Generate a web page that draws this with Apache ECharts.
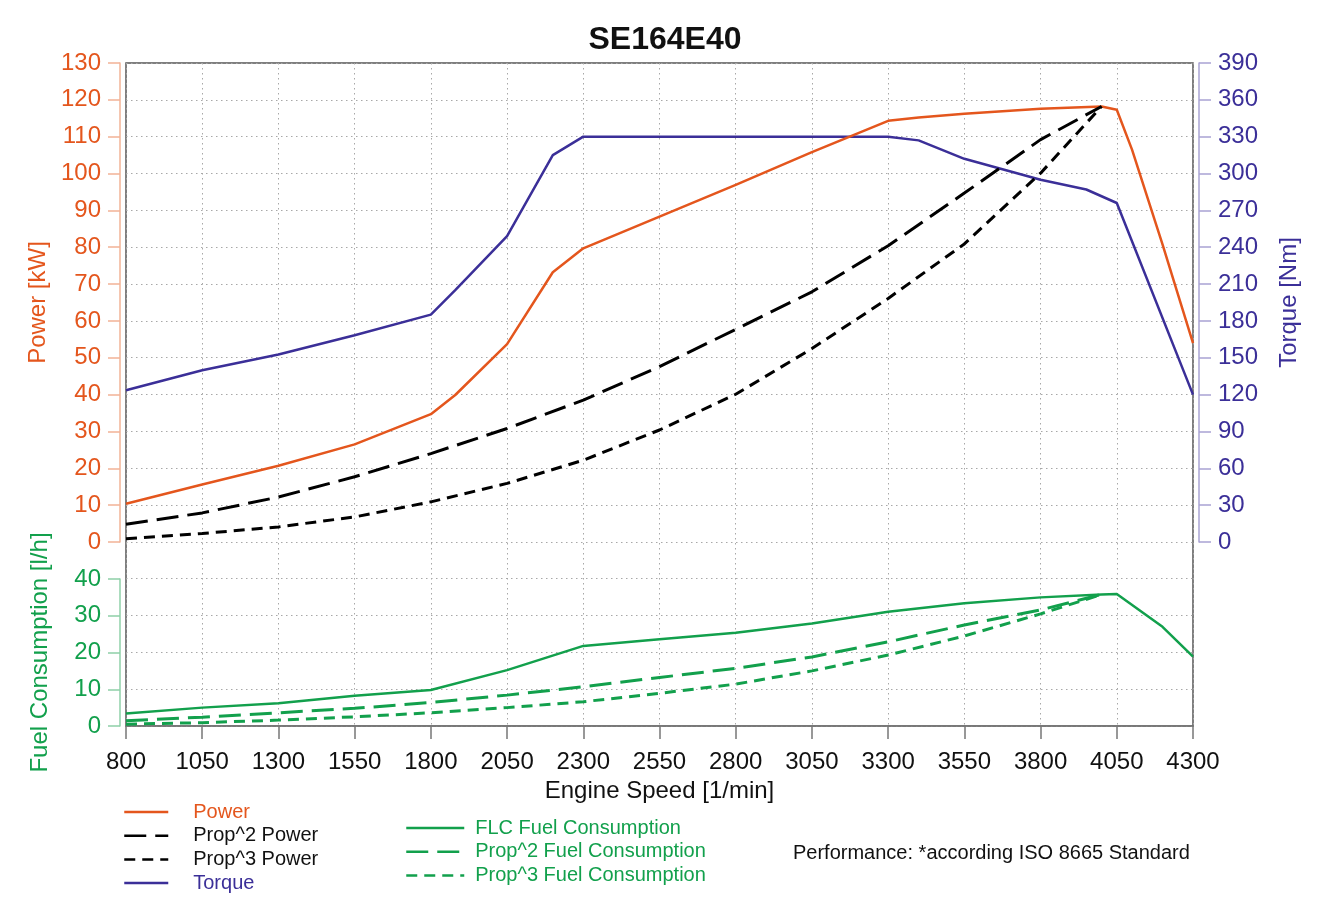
<!DOCTYPE html>
<html>
<head>
<meta charset="utf-8">
<title>SE164E40</title>
<script src="https://cdn.jsdelivr.net/npm/echarts@6/dist/echarts.min.js"></script>
<style>
  html, body { margin: 0; padding: 0; background: #fff; }
  #main { width: 1330px; height: 924px; }
</style>
</head>
<body>
<div id="main"></div>
<script>
// engine speed points [1/min]
var rpmPower = [800, 1050, 1300, 1550, 1800, 1880, 2050, 2200, 2300, 2550, 2800, 3050, 3300, 3400, 3550, 3800, 4000, 4050, 4100, 4200, 4300]
var rpmTorque = [800, 1050, 1300, 1550, 1800, 1880, 2050, 2200, 2300, 3300, 3400, 3550, 3800, 3950, 4050, 4300]
var rpmProp = [800, 1050, 1300, 1550, 1800, 2050, 2300, 2550, 2800, 3050, 3300, 3550, 3800, 4000]
var rpmFuel = [800, 1050, 1300, 1550, 1800, 2050, 2300, 2550, 2800, 3050, 3300, 3550, 3800, 4000, 4050, 4200, 4300]

// power [kW]
var power = [10.4, 15.6, 20.7, 26.5, 34.7, 39.9, 53.7, 73.2, 79.7, 88.3, 96.9, 105.8, 114.3, 115.2, 116.2, 117.6, 118.2, 117.3, 106.5, 80.8, 54]
var prop2Power = [4.8, 7.9, 12.2, 17.7, 24.0, 30.8, 38.5, 47.6, 57.7, 67.9, 80.4, 94.7, 109.2, 118.2]
var prop3Power = [0.9, 2.3, 4.1, 6.8, 10.9, 15.9, 22.2, 30.4, 40.1, 52.5, 66.1, 80.9, 100.1, 118.2]
// torque [Nm]
var torque = [123.5, 139.8, 152.6, 168.3, 185.1, 205, 249, 315, 330, 330, 327, 312, 295, 287, 276, 120]
// fuel consumption [l/h]
var flcFuel = [3.4, 5.0, 6.2, 8.2, 9.8, 15.2, 21.8, 23.6, 25.4, 27.9, 31.1, 33.4, 35.0, 35.8, 35.9, 27.0, 18.9]
var prop2Fuel = [1.4, 2.4, 3.6, 4.8, 6.4, 8.4, 10.7, 13.2, 15.7, 18.8, 22.9, 27.5, 31.6, 35.8]
var prop3Fuel = [0.5, 0.9, 1.6, 2.5, 3.6, 5.0, 6.6, 8.9, 11.4, 15.0, 19.3, 24.5, 30.5, 35.8]

var ORANGE = '#e4561d'
var PURPLE = '#3b2f98'
var GREEN = '#12a04c'
var FONT = 'Liberation Sans, Arial, sans-serif'

function pairs(xs, ys) {
    return xs.map(function(x, i) { return [x, ys[i]] })
}

var dotted = { color: '#a8a8a8', width: 1, type: [1.5, 3.5] }

function sideAxis(opt) {
    return {
        type: 'value',
        gridIndex: opt.grid,
        position: opt.pos,
        offset: 6,
        min: opt.min,
        max: opt.max,
        interval: opt.interval,
        name: opt.name,
        nameLocation: 'middle',
        nameGap: opt.nameGap,
        nameTextStyle: { color: opt.color, fontSize: 24, fontFamily: FONT },
        axisLine: { show: true, lineStyle: { color: opt.lineColor, width: 1.5 } },
        axisTick: { show: true, length: 12, lineStyle: { color: opt.lineColor, width: 1.5 } },
        axisLabel: { color: opt.color, fontSize: 24, fontFamily: FONT, margin: 19 },
        splitLine: { show: false }
    }
}

function line(name, x, y, color, dash, xi, yi, width) {
    return {
        name: name,
        type: 'line',
        xAxisIndex: xi,
        yAxisIndex: yi,
        data: pairs(x, y),
        symbol: 'none',
        animation: false,
        lineStyle: { color: color, width: width || 2.5, type: dash || 'solid' },
        itemStyle: { color: color }
    }
}

var chart = echarts.init(document.getElementById('main'))

var option = {
    backgroundColor: '#fff',
    animation: false,
    title: {
        text: 'SE164E40',
        left: 660,
        textAlign: 'center',
        top: 19,
        textStyle: { fontSize: 32, fontWeight: 'bold', color: '#111', fontFamily: FONT }
    },
    grid: [
        { left: 126, top: 63, width: 1067, height: 663, show: true, borderColor: '#555', borderWidth: 1.5 },
        { left: 126, top: 63, width: 1067, height: 479 },
        { left: 126, top: 579, width: 1067, height: 147 }
    ],
    xAxis: [
        {
            type: 'value', gridIndex: 0, min: 800, max: 4300, interval: 250,
            position: 'bottom', offset: 6,
            name: 'Engine Speed [1/min]', nameLocation: 'middle', nameGap: 47,
            nameTextStyle: { color: '#111', fontSize: 24, fontFamily: FONT },
            axisLine: { show: true, lineStyle: { color: '#777', width: 1.5 } },
            axisTick: { show: true, length: 13, lineStyle: { color: '#777', width: 1.5 } },
            axisLabel: {
                color: '#111', fontSize: 24, fontFamily: FONT, margin: 18,
                formatter: function(v) { return String(v) }
            },
            splitLine: { show: true, lineStyle: dotted }
        },
        { type: 'value', gridIndex: 1, min: 800, max: 4300, show: false },
        { type: 'value', gridIndex: 2, min: 800, max: 4300, show: false }
    ],
    yAxis: [
        {
            type: 'value', gridIndex: 0, min: 0, max: 18, interval: 1,
            axisLine: { show: false }, axisTick: { show: false }, axisLabel: { show: false },
            splitLine: { show: true, lineStyle: dotted }
        },
        sideAxis({ grid: 1, pos: 'left', min: 0, max: 130, interval: 10, name: 'Power [kW]', nameGap: 68,
            color: ORANGE, lineColor: '#f2b396' }),
        sideAxis({ grid: 1, pos: 'right', min: 0, max: 390, interval: 30, name: 'Torque [Nm]', nameGap: 78,
            color: PURPLE, lineColor: '#a9a3d3' }),
        sideAxis({ grid: 2, pos: 'left', min: 0, max: 40, interval: 10, name: 'Fuel Consumption [l/h]', nameGap: 68,
            color: GREEN, lineColor: '#8fd0a8' })
    ],
    legend: [
        {
            orient: 'vertical', left: 118, top: 797,
            itemWidth: 44, itemHeight: 14, itemGap: 3.7,
            selectedMode: false,
            itemStyle: { opacity: 0 },
            lineStyle: { width: 2.5 },
            textStyle: { fontSize: 20, fontFamily: FONT, lineHeight: 20, padding: [0, 0, 0, 20] },
            data: [
                { name: 'Power', textStyle: { color: ORANGE } },
                { name: 'Prop^2 Power', textStyle: { color: '#111' } },
                { name: 'Prop^3 Power', textStyle: { color: '#111' } },
                { name: 'Torque', textStyle: { color: PURPLE } }
            ]
        },
        {
            orient: 'vertical', left: 400, top: 813,
            itemWidth: 58, itemHeight: 14, itemGap: 3.7,
            selectedMode: false,
            itemStyle: { opacity: 0 },
            lineStyle: { width: 2.5 },
            textStyle: { fontSize: 20, fontFamily: FONT, lineHeight: 20, color: GREEN, padding: [0, 0, 0, 6] },
            data: ['FLC Fuel Consumption', 'Prop^2 Fuel Consumption', 'Prop^3 Fuel Consumption']
        }
    ],
    graphic: [
        {
            type: 'text', left: 793, top: 843,
            style: { text: 'Performance: *according ISO 8665 Standard', fontSize: 20, fontFamily: FONT, fill: '#111' }
        }
    ],
    series: [
        line('Torque', rpmTorque, torque, PURPLE, null, 1, 2),
        line('Power', rpmPower, power, ORANGE, null, 1, 1),
        line('Prop^2 Power', rpmProp, prop2Power, '#000', [22, 9], 1, 1, 3),
        line('Prop^3 Power', rpmProp, prop3Power, '#000', [11, 7], 1, 1, 3),
        line('FLC Fuel Consumption', rpmFuel, flcFuel, GREEN, null, 2, 3),
        line('Prop^2 Fuel Consumption', rpmProp, prop2Fuel, GREEN, [22, 9], 2, 3, 3),
        line('Prop^3 Fuel Consumption', rpmProp, prop3Fuel, GREEN, [11, 7], 2, 3, 3)
    ]
}

chart.setOption(option)

window.addEventListener('resize', function() {
    chart.resize()
})
</script>
</body>
</html>
